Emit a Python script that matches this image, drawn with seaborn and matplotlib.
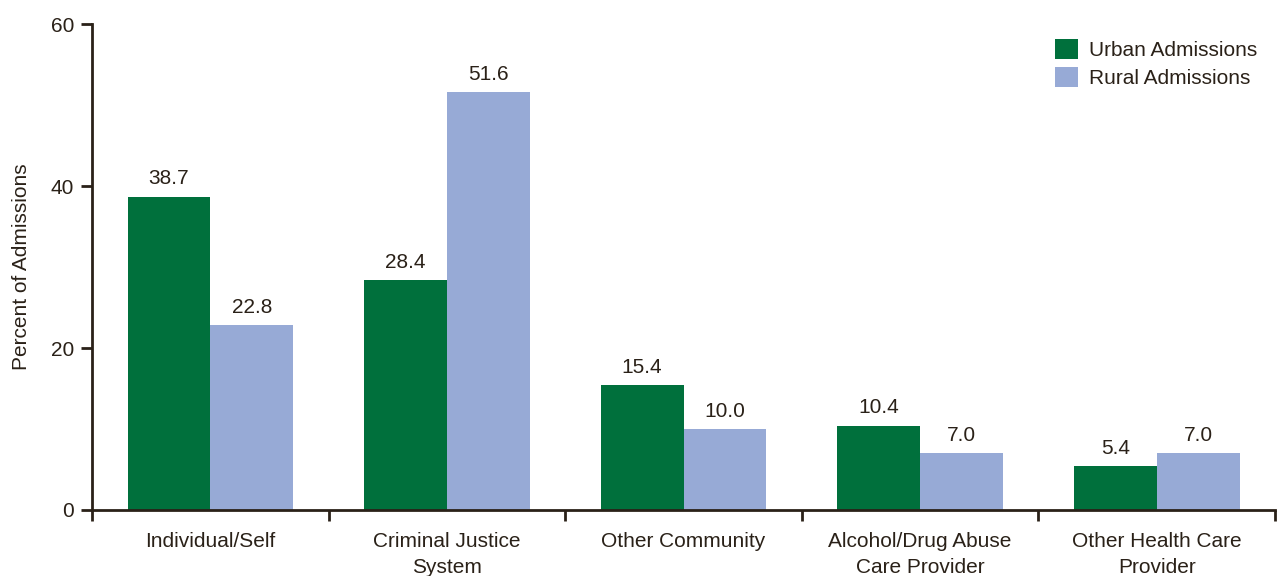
import matplotlib
matplotlib.use("Agg")
import matplotlib.pyplot as plt
import seaborn as sns
import pandas as pd
import numpy as np

categories = ["Individual/Self", "Criminal Justice\nSystem", "Other Community",
              "Alcohol/Drug Abuse\nCare Provider", "Other Health Care\nProvider"]
urban = [38.7, 28.4, 15.4, 10.4, 5.4]
rural = [22.8, 51.6, 10.0, 7.0, 7.0]
series = ["Urban Admissions", "Rural Admissions"]
colors = ["#00703C", "#97AAD6"]
yticks = [0, 20, 40, 60]

sns.set_theme(style="white")
plt.rcParams["font.family"] = ["Liberation Sans", "DejaVu Sans"]
txt = "#2A2118"
fs = 15

df = pd.DataFrame({
    "cat": categories * 2,
    "val": urban + rural,
    "series": [series[0]] * len(categories) + [series[1]] * len(categories),
})

fig = plt.figure(figsize=(12.78, 5.76), dpi=100)
ax = fig.add_axes([0.072, 0.1146, 0.9257, 0.8437])
sns.barplot(data=df, x="cat", y="val", hue="series", order=categories,
            hue_order=series, palette=colors, width=0.7, saturation=1,
            errorbar=None, linewidth=0, ax=ax)

for cont in ax.containers:
    ax.bar_label(cont, fmt="%.1f", padding=6, fontsize=fs, color=txt)

ax.set_xlim(-0.5, len(categories) - 0.5)
ax.set_ylim(0, 60)
ax.set_yticks(yticks)
ax.set_xlabel("")
ax.set_ylabel("Percent of Admissions", fontsize=fs, color=txt, labelpad=14)

ax.set_xticks(np.arange(len(categories)))
ax.set_xticklabels(categories, fontsize=fs, color=txt, linespacing=1.45)
ax.set_xticks(np.arange(len(categories) + 1) - 0.5, minor=True)
ax.tick_params(axis="x", which="major", length=0, pad=16)
ax.tick_params(axis="x", which="minor", length=8, width=2, color=txt, direction="out", bottom=True)
ax.tick_params(axis="y", length=8, width=2, color=txt, labelsize=fs, labelcolor=txt,
               direction="out", left=True, pad=5)

for s in ["top", "right"]:
    ax.spines[s].set_visible(False)
for s in ["left", "bottom"]:
    ax.spines[s].set_color(txt)
    ax.spines[s].set_linewidth(2)

leg = ax.legend(loc="upper right", bbox_to_anchor=(0.997, 1.0), frameon=False,
                fontsize=fs, handlelength=1.1, handleheight=1.1, handletextpad=0.5,
                labelspacing=0.35, borderaxespad=0.3)
for t in leg.get_texts():
    t.set_color(txt)

fig.savefig("out.png", dpi=100)
